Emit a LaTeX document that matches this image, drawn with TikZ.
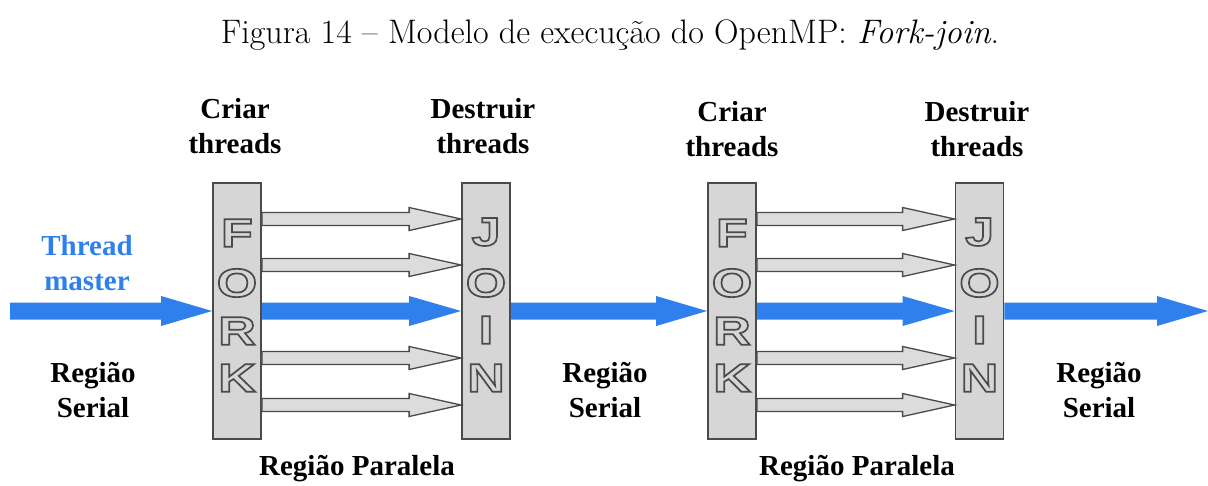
\documentclass[tikz,border=0pt]{standalone}
\usepackage{fontspec}
\usetikzlibrary{calc}

\newfontfamily\labfont{Liberation Serif}
\newfontfamily\letfont{Liberation Sans}[FakeStretch=1.3]

\definecolor{ompblue}{HTML}{2F80ED}
\definecolor{boxfill}{HTML}{D6D6D6}
\definecolor{boxline}{HTML}{4A4A4A}
\definecolor{arrfill}{HTML}{DCDCDC}

% filled block arrow from #2 to #3: half shaft, half head, head length
\newcommand\fatarrow[6]{%
  \draw[#1] let \p1=(#2), \p2=(#3) in
    (\x1,\y1-#4) -- (\x2-#6,\y1-#4) -- (\x2-#6,\y1-#5) -- (\x2,\y1)
    -- (\x2-#6,\y1+#5) -- (\x2-#6,\y1+#4) -- (\x1,\y1+#4) -- cycle;}

\tikzset{
  stage/.style={draw=boxline, fill=boxfill, line width=1.8pt,
    minimum width=48pt, minimum height=256pt, inner sep=0pt},
  garrow/.style={draw=boxline, fill=arrfill, line width=1.3pt, line join=miter},
  barrow/.style={fill=ompblue, draw=none},
  lab/.style={font=\labfont\bfseries\fontsize{29}{35}\selectfont,
    align=center, inner sep=0pt},
  letter/.style={font=\letfont\bfseries\fontsize{40}{40}\selectfont, inner sep=0pt},
}

% outlined letter: light fill, dark stroke (text render mode 2)
\newcommand\hollow[1]{{\color{boxfill}%
  \special{pdf:literal direct 0.29 0.29 0.29 RG 1.7 w 2 Tr}#1%
  \special{pdf:literal direct 0 Tr}}}

\begin{document}
\begin{tikzpicture}[x=1pt,y=-1pt]
\useasboundingbox (0,0) rectangle (1208,485);

% caption
\node[anchor=base, inner sep=0pt, font=\fontsize{34}{40}\selectfont] (title) at (610,43)
  {Figura 14 -- Modelo de execução do OpenMP: \textit{Fork-join}.};

% fork / join blocks
\node[stage] (fork1) at (237,311) {};
\node[stage] (join1) at (486,311) {};
\node[stage] (fork2) at (732,311) {};
\node[stage] (join2) at (979.5,311) {};

% lanes of the worker threads
\coordinate (lane1) at (0,219);
\coordinate (lane2) at (0,265);
\coordinate (lane4) at (0,358);
\coordinate (lane5) at (0,405);

% ends of the master thread
\coordinate (mstart) at (10,311);
\coordinate (mend) at (1208,311);

% worker thread arrows
\foreach \l in {lane1,lane2,lane4,lane5}{
  \fatarrow{garrow}{fork1.east |- \l}{join1.west |- \l}{6.5}{11.5}{52}
  \fatarrow{garrow}{fork2.east |- \l}{join2.west |- \l}{6.5}{11.5}{52}
}

% master thread arrows
\fatarrow{barrow}{mstart}{fork1.west}{8.5}{15}{51}
\fatarrow{barrow}{fork1.east}{join1.west}{8.5}{15}{52}
\fatarrow{barrow}{join1.east}{fork2.west}{8.5}{15}{51}
\fatarrow{barrow}{fork2.east}{join2.west}{8.5}{15}{52}
\fatarrow{barrow}{join2.east}{mend}{8.5}{15}{51}

% block letters
\node[letter] (f1a) at (237,233) {\hollow{F}};
\node[letter] (f1b) at (237,283) {\hollow{O}};
\node[letter] (f1c) at (237,331) {\hollow{R}};
\node[letter] (f1d) at (237,378) {\hollow{K}};
\node[letter] (j1a) at (486,232) {\hollow{J}};
\node[letter] (j1b) at (486,283) {\hollow{O}};
\node[letter] (j1c) at (486,330) {\hollow{I}};
\node[letter] (j1d) at (486,378) {\hollow{N}};
\node[letter] (f2a) at (732,233) {\hollow{F}};
\node[letter] (f2b) at (732,283) {\hollow{O}};
\node[letter] (f2c) at (732,331) {\hollow{R}};
\node[letter] (f2d) at (732,378) {\hollow{K}};
\node[letter] (j2a) at (979.5,232) {\hollow{J}};
\node[letter] (j2b) at (979.5,283) {\hollow{O}};
\node[letter] (j2c) at (979.5,330) {\hollow{I}};
\node[letter] (j2d) at (979.5,378) {\hollow{N}};

% labels (base anchor sits on the last line)
\node[lab, anchor=base] (c1) at (235,153) {Criar\\threads};
\node[lab, anchor=base] (d1) at (483,153) {Destruir\\threads};
\node[lab, anchor=base] (c2) at (732,156) {Criar\\threads};
\node[lab, anchor=base] (d2) at (977,156) {Destruir\\threads};
\node[lab, anchor=base, text=ompblue] (tm) at (87,290) {Thread\\master};
\node[lab, anchor=base] (s1) at (93,417) {Região\\Serial};
\node[lab, anchor=base] (s2) at (605,417) {Região\\Serial};
\node[lab, anchor=base] (s3) at (1099,417) {Região\\Serial};
\node[lab, anchor=base] (p1) at (357,475) {Região Paralela};
\node[lab, anchor=base] (p2) at (857,475) {Região Paralela};
\end{tikzpicture}
\end{document}
